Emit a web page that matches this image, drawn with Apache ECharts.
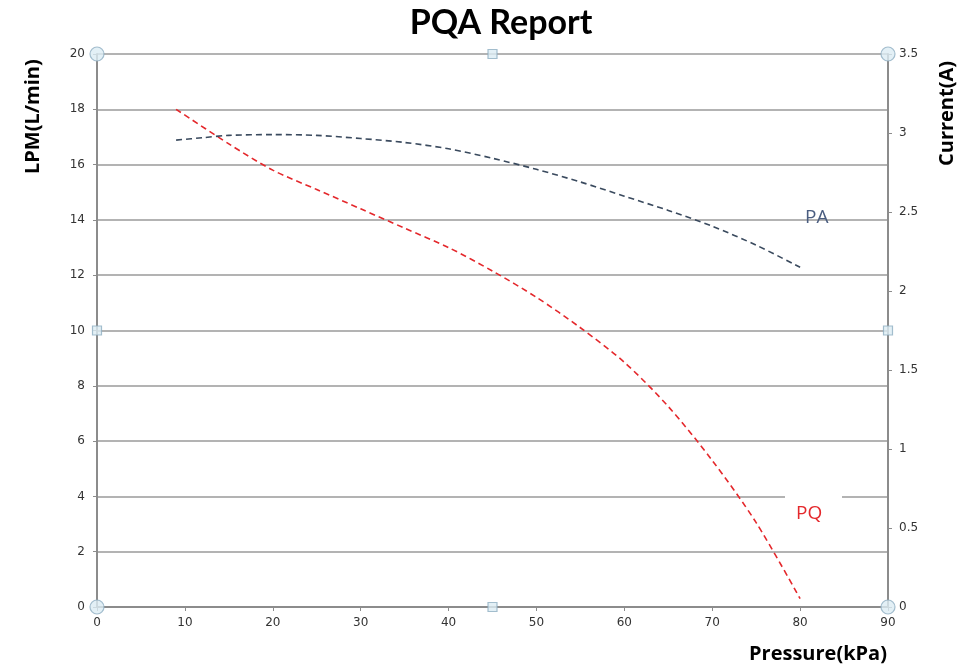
<!DOCTYPE html>
<html>
<head>
<meta charset="utf-8">
<script src="https://cdn.jsdelivr.net/npm/echarts@6/dist/echarts.min.js"></script>
<style>html,body{margin:0;padding:0;background:#fff}#c{width:979px;height:668px}</style>
</head>
<body>
<div id="c"></div>
<script>
// PQ curve: pressure (kPa) vs flow (LPM), left axis
const pqPressure = [9, 15, 20, 25, 30, 35, 40, 45, 50, 55, 60, 65, 70, 75, 80];
const pqFlow     = [18, 16.75, 15.8, 15.1, 14.4, 13.7, 13.0, 12.15, 11.2, 10.1, 8.85, 7.25, 5.3, 3.05, 0.3];
// PA curve: pressure (kPa) vs current (A), right axis
const paPressure = [9, 12, 15, 20, 25, 30, 35, 40, 45, 50, 55, 60, 65, 70, 75, 80];
const paCurrent  = [2.955, 2.97, 2.985, 2.99, 2.985, 2.965, 2.94, 2.9, 2.84, 2.77, 2.69, 2.6, 2.51, 2.41, 2.29, 2.15];
// plot-area handles (decorative selection handles)
const circleHandles = [[0, 0], [90, 0], [0, 20], [90, 20]];
const squareHandles = [[45, 0], [45, 20], [0, 10], [90, 10]];
const xTicks = {min: 0, max: 90, interval: 10};
const yLeft = {min: 0, max: 20, interval: 2};
const yRight = {min: 0, max: 3.5, interval: 0.5};

const chart = echarts.init(document.getElementById('c'), null, {renderer: 'canvas'});
const axisGray = '#8c8c8c';
const lblStyle = {color: '#333', fontFamily: 'DejaVu Sans', fontSize: 12};
const handleStyle = {color: '#dcecf4', borderColor: '#8eaec2', borderWidth: 1.2};

chart.setOption({
  animation: false,
  backgroundColor: '#fff',
  title: {
    text: 'PQA Report', left: 496, top: 1, textAlign: 'center',
    textStyle: {fontFamily: 'Lato', fontWeight: 'bold', fontSize: 34, color: '#000'}
  },
  grid: {left: 97, right: 91, top: 54, bottom: 61},
  xAxis: {
    type: 'value', min: xTicks.min, max: xTicks.max, interval: xTicks.interval,
    axisLine: {show: true, onZero: false, lineStyle: {color: axisGray, width: 2}},
    axisTick: {show: true, length: 4, lineStyle: {color: axisGray}},
    splitLine: {show: false},
    axisLabel: Object.assign({margin: 10}, lblStyle)
  },
  yAxis: [
    {
      type: 'value', min: yLeft.min, max: yLeft.max, interval: yLeft.interval,
      axisLine: {show: true, lineStyle: {color: axisGray, width: 2}},
      axisTick: {show: true, length: 4, lineStyle: {color: axisGray}},
      splitLine: {show: true, lineStyle: {color: '#9a9a9a', width: 1.5}},
      axisLabel: Object.assign({margin: 12}, lblStyle)
    },
    {
      type: 'value', min: yRight.min, max: yRight.max, interval: yRight.interval, position: 'right',
      axisLine: {show: true, lineStyle: {color: axisGray, width: 2}},
      axisTick: {show: true, length: 4, lineStyle: {color: axisGray}},
      splitLine: {show: false},
      axisLabel: Object.assign({margin: 11}, lblStyle)
    }
  ],
  series: [
    {
      name: 'PQ', type: 'line', yAxisIndex: 0, smooth: 0.3, showSymbol: false,
      data: pqPressure.map((p, i) => [p, pqFlow[i]]),
      lineStyle: {color: '#e4282c', width: 1.6, type: [6, 4]}, z: 3
    },
    {
      name: 'PA', type: 'line', yAxisIndex: 1, smooth: 0.3, showSymbol: false,
      data: paPressure.map((p, i) => [p, paCurrent[i]]),
      lineStyle: {color: '#3a4a5e', width: 1.6, type: [6, 4]}, z: 3
    },
    {
      type: 'scatter', yAxisIndex: 0, symbol: 'circle', symbolSize: 14, clip: false, silent: true,
      data: circleHandles, itemStyle: handleStyle, z: 5
    },
    {
      type: 'scatter', yAxisIndex: 0, symbol: 'rect', symbolSize: 9, clip: false, silent: true,
      data: squareHandles, itemStyle: handleStyle, z: 5
    }
  ],
  graphic: [
    {type: 'text', rotation: Math.PI / 2, position: [23, 174], style: {text: 'LPM(L/min)', font: 'bold 20px "Open Sans"', fill: '#000'}},
    {type: 'text', rotation: Math.PI / 2, position: [937, 166], style: {text: 'Current(A)', font: 'bold 20px "Open Sans"', fill: '#000'}},
    {type: 'text', position: [749, 644], style: {text: 'Pressure(kPa)', font: 'bold 20px "Open Sans"', fill: '#000'}},
    {type: 'text', position: [805, 208], z: 10, style: {text: 'PA', font: '19px "Open Sans"', fill: '#4a5d80'}},
    {type: 'rect', shape: {x: 785, y: 488, width: 57, height: 16}, z: 9, style: {fill: '#fff'}},
    {type: 'text', position: [796, 504], z: 10, style: {text: 'PQ', font: '19px "Open Sans"', fill: '#e4282c'}}
  ]
});
</script>
</body>
</html>
